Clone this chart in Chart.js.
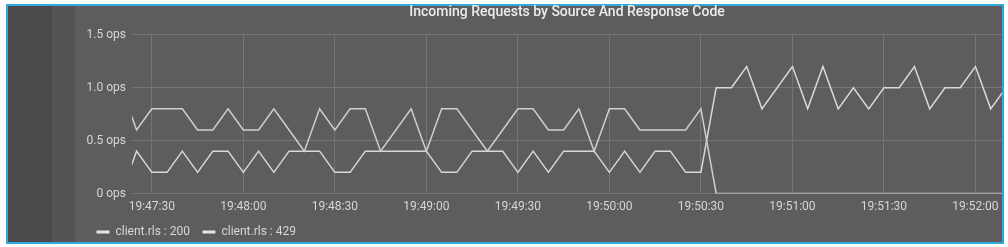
<!DOCTYPE html>
<html>
<head>
<meta charset="utf-8">
<script src="https://cdn.jsdelivr.net/npm/chart.js@4/dist/chart.umd.min.js"></script>
<style>
  html, body { margin: 0; padding: 0; background: #fff; overflow: hidden; }
  #panel {
    position: absolute; left: 6px; top: 4px; width: 994px; height: 236px;
    border: 2px solid #31a8d9;
    background: linear-gradient(to right, #4c4a4a 0, #4c4a4a 44px, #555353 44px, #555353 67px, #5e5c5c 67px);
  }
  #chart { position: absolute; left: 0; top: 0; }
</style>
</head>
<body>
<div id="panel"></div>
<canvas id="chart" width="1008" height="248"></canvas>
<script>
// tidspunkter for hvert datapunkt (hver 5. sekund)
const times = [
  '19:47:20', '19:47:25', '19:47:30', '19:47:35', '19:47:40', '19:47:45', '19:47:50', '19:47:55',
  '19:48:00', '19:48:05', '19:48:10', '19:48:15', '19:48:20', '19:48:25', '19:48:30', '19:48:35',
  '19:48:40', '19:48:45', '19:48:50', '19:48:55', '19:49:00', '19:49:05', '19:49:10', '19:49:15',
  '19:49:20', '19:49:25', '19:49:30', '19:49:35', '19:49:40', '19:49:45', '19:49:50', '19:49:55',
  '19:50:00', '19:50:05', '19:50:10', '19:50:15', '19:50:20', '19:50:25', '19:50:30', '19:50:35',
  '19:50:40', '19:50:45', '19:50:50', '19:50:55', '19:51:00', '19:51:05', '19:51:10', '19:51:15',
  '19:51:20', '19:51:25', '19:51:30', '19:51:35', '19:51:40', '19:51:45', '19:51:50', '19:51:55',
  '19:52:00', '19:52:05', '19:52:10'
];

const seriesNames = ['client.rls : 200', 'client.rls : 429'];

// client.rls : 200 (ops)
const rls200 = [
  1.0, 0.6, 0.8, 0.8, 0.8, 0.6, 0.6, 0.8, 0.6, 0.6, 0.8, 0.6, 0.4, 0.8, 0.6, 0.8,
  0.8, 0.4, 0.6, 0.8, 0.4, 0.8, 0.8, 0.6, 0.4, 0.6, 0.8, 0.8, 0.6, 0.6, 0.8, 0.4,
  0.8, 0.8, 0.6, 0.6, 0.6, 0.6, 0.8, 0, 0, 0, 0, 0, 0, 0,
  0, 0, 0, 0, 0, 0, 0, 0, 0, 0, 0, 0, 0
];

// client.rls : 429 (ops)
const rls429 = [
  0.0, 0.4, 0.2, 0.2, 0.4, 0.2, 0.4, 0.4, 0.2, 0.4, 0.2, 0.4, 0.4, 0.4, 0.2, 0.2,
  0.4, 0.4, 0.4, 0.4, 0.4, 0.2, 0.2, 0.4, 0.4, 0.4, 0.2, 0.4, 0.2, 0.4, 0.4, 0.4,
  0.2, 0.4, 0.2, 0.4, 0.4, 0.2, 0.2, 1.0, 1.0, 1.2, 0.8, 1.0, 1.2, 0.8,
  1.2, 0.8, 1.0, 0.8, 1.0, 1.0, 1.2, 0.8, 1.0, 1.0, 1.2, 0.8, 1.0
];

const yTicks = [0, 0.5, 1.0, 1.5];

// "HH:MM:SS" -> sekunder
function toSec(t) {
  const p = t.split(':').map(Number);
  return p[0] * 3600 + p[1] * 60 + p[2];
}
function fmtSec(s) {
  const h = Math.floor(s / 3600), m = Math.floor((s % 3600) / 60), sec = Math.round(s % 60);
  return [h, m, sec].map(v => String(v).padStart(2, '0')).join(':');
}

const xMin = toSec(times[0]) + 3.5;
const xMax = toSec(times[times.length - 1]) - 1.3;

const font = { family: 'Roboto', size: 12 };
const textColor = '#d6d6d6';
const gridColor = '#767474';

new Chart(document.getElementById('chart').getContext('2d'), {
  type: 'line',
  data: {
    datasets: [
      {
        label: seriesNames[0],
        data: times.map((t, i) => ({ x: toSec(t), y: rls200[i] })),
        borderColor: '#cfcfcf',
        backgroundColor: '#cfcfcf',
        borderWidth: 1.5,
        pointRadius: 0,
        tension: 0,
        fill: false
      },
      {
        label: seriesNames[1],
        data: times.map((t, i) => ({ x: toSec(t), y: rls429[i] })),
        borderColor: '#d9d9d9',
        backgroundColor: '#d9d9d9',
        borderWidth: 1.5,
        pointRadius: 0,
        tension: 0,
        fill: false
      }
    ]
  },
  options: {
    responsive: false,
    animation: false,
    devicePixelRatio: 1,
    layout: { padding: { left: 84, right: 6, top: 0, bottom: 0 } },
    plugins: {
      tooltip: { enabled: false },
      title: {
        display: true,
        text: 'Incoming Requests by Source And Response Code',
        color: '#ececec',
        fullSize: false,
        font: { family: 'Roboto', size: 14, weight: '500' },
        padding: { top: 4, bottom: 14 }
      },
      legend: {
        position: 'bottom',
        align: 'start',
        labels: {
          color: textColor,
          font: font,
          usePointStyle: true,
          pointStyleWidth: 13,
          boxHeight: 5,
          padding: 12.5,
          generateLabels: chart => chart.data.datasets.map((ds, i) => ({
            text: ds.label,
            fillStyle: '#e6e6e6',
            strokeStyle: '#e6e6e6',
            lineWidth: 3.2,
            pointStyle: 'line',
            datasetIndex: i,
            fontColor: textColor
          }))
        }
      }
    },
    scales: {
      x: {
        type: 'linear',
        min: xMin,
        max: xMax,
        afterFit: s => { s.height = 20; },
        border: { display: false },
        grid: { color: gridColor, drawTicks: false, lineWidth: 1 },
        ticks: {
          stepSize: 30,
          includeBounds: false,
          autoSkip: false,
          maxRotation: 0,
          padding: 6,
          color: textColor,
          font: font,
          callback: v => fmtSec(v)
        }
      },
      y: {
        min: yTicks[0],
        max: yTicks[yTicks.length - 1],
        afterFit: s => { s.width = 48; },
        afterBuildTicks: s => { s.ticks = yTicks.map(v => ({ value: v })); },
        border: { display: false },
        grid: { color: gridColor, drawTicks: false, lineWidth: 1 },
        ticks: {
          padding: 6,
          color: textColor,
          font: font,
          callback: v => (v === 0 ? '0' : v.toFixed(1)) + ' ops'
        }
      }
    }
  }
});
</script>
</body>
</html>
